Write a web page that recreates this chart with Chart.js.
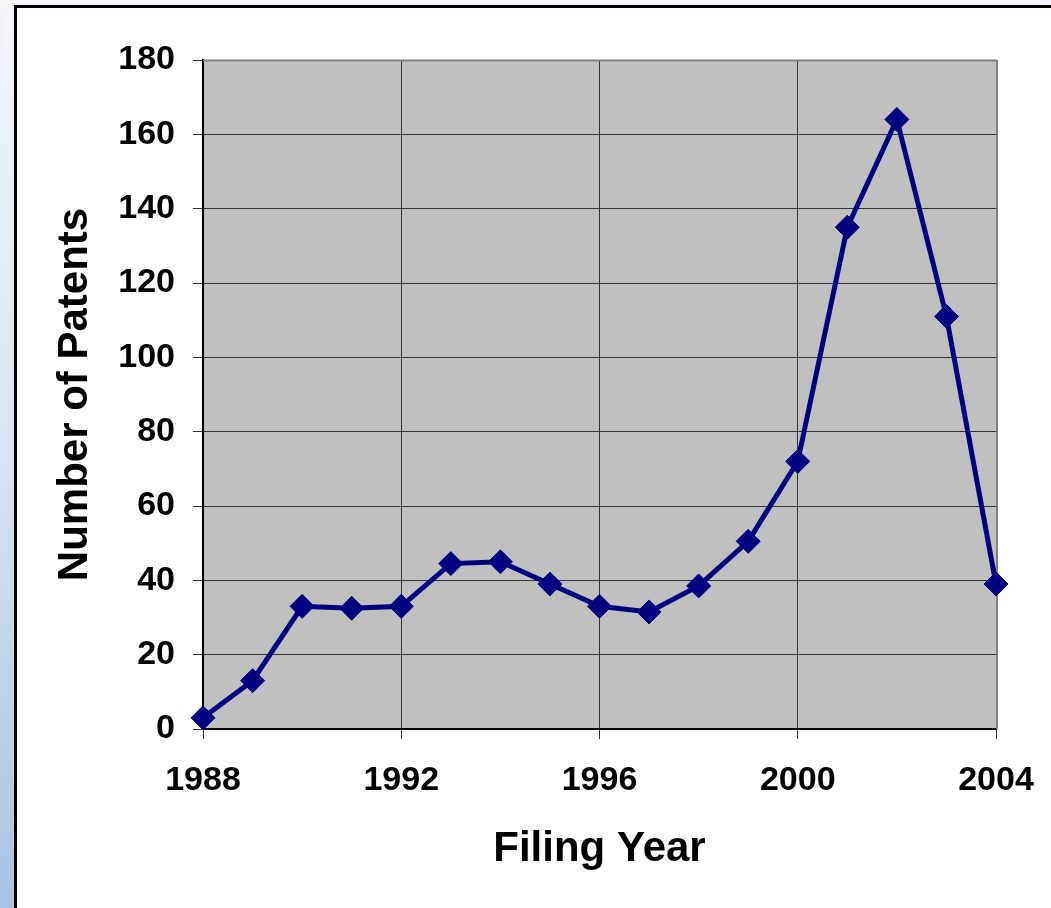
<!DOCTYPE html>
<html>
<head>
<meta charset="utf-8">
<script src="https://cdn.jsdelivr.net/npm/chart.js@4"></script>
<style>
    html, body { margin: 0; padding: 0; }
    body {
        width: 1051px; height: 908px; overflow: hidden; position: relative;
        background: linear-gradient(to bottom, #f3f6fb 0%, #d8e4f1 50%, #a7c4e1 100%);
    }
    .frame {
        position: absolute; left: 14px; top: 5px; width: 1100px; height: 1000px;
        border-left: 3px solid #000; border-top: 3px solid #000; background: #fff;
    }
    #patent-chart { position: absolute; left: 0; top: 0; }
</style>
</head>
<body>
<div class="frame"></div>
<canvas id="patent-chart" width="1051" height="908"></canvas>
<script>
/*** 資料 ***/
const years = [1988, 1989, 1990, 1991, 1992, 1993, 1994, 1995, 1996, 1997, 1998, 1999, 2000, 2001, 2002, 2003, 2004];
const patents = [3, 13, 33, 32.5, 33, 44.5, 45, 39, 33, 31.5, 38.5, 50.5, 72, 135, 164, 111, 39];
const xTicks = [1988, 1992, 1996, 2000, 2004];
const yTicks = [0, 20, 40, 60, 80, 100, 120, 140, 160, 180];

const navy = '#000080';
const tickFont = { family: 'Liberation Sans, Arial, sans-serif', size: 34, weight: 'bold' };
const titleFont = { family: 'Liberation Sans, Arial, sans-serif', size: 42, weight: 'bold' };

// 灰色繪圖區背景 + 上/右邊框
const plotArea = {
    id: 'plotArea',
    beforeDraw(chart) {
        const { ctx, chartArea: a } = chart;
        ctx.save();
        ctx.fillStyle = '#c0c0c0';
        ctx.fillRect(a.left, a.top, a.right - a.left, a.bottom - a.top);
        ctx.restore();
    },
    beforeDatasetsDraw(chart) {
        const { ctx, chartArea: a } = chart;
        ctx.save();
        ctx.strokeStyle = '#808080';
        ctx.lineWidth = 2;
        ctx.beginPath();
        ctx.moveTo(a.left, a.top + 0.5);
        ctx.lineTo(a.right + 1, a.top + 0.5);
        ctx.moveTo(a.right + 1, a.top);
        ctx.lineTo(a.right + 1, a.bottom);
        ctx.stroke();
        ctx.restore();
    }
};

const ctx = document.getElementById('patent-chart').getContext('2d');
new Chart(ctx, {
    type: 'line',
    data: {
        datasets: [{
            label: 'Patents',
            data: years.map((y, i) => ({ x: y, y: patents[i] })),
            borderColor: navy,
            backgroundColor: navy,
            borderWidth: 5,
            tension: 0,
            pointStyle: 'rectRot',
            pointRadius: 12,
            pointBorderWidth: 1,
            pointBorderColor: navy,
            pointBackgroundColor: navy,
            clip: false
        }]
    },
    options: {
        responsive: false,
        animation: false,
        devicePixelRatio: 1,
        layout: { padding: { top: 60, right: 55, left: 0, bottom: 0 } },
        plugins: {
            legend: { display: false },
            tooltip: { enabled: false }
        },
        scales: {
            x: {
                type: 'linear',
                min: years[0],
                max: years[years.length - 1],
                afterBuildTicks: s => { s.ticks = xTicks.map(v => ({ value: v })); },
                afterFit: s => { s.height = 179; s.paddingLeft = 0; s.paddingRight = 0; },
                ticks: {
                    font: tickFont, color: '#000', padding: 21, maxRotation: 0,
                    autoSkip: false, callback: v => String(v)
                },
                grid: { color: '#333', tickColor: '#333', tickLength: 10, lineWidth: 1 },
                border: { color: '#000', width: 2 },
                title: {
                    display: true, text: 'Filing Year', font: titleFont, color: '#000',
                    padding: { top: 0, bottom: 33 }
                }
            },
            y: {
                min: 0,
                max: 180,
                afterBuildTicks: s => { s.ticks = yTicks.map(v => ({ value: v })); },
                afterFit: s => { s.width = 203; },
                ticks: { font: tickFont, color: '#000', padding: 18 },
                grid: { color: '#333', tickColor: '#333', tickLength: 10, lineWidth: 1 },
                border: { color: '#000', width: 2 },
                title: {
                    display: true, text: 'Number of Patents', font: titleFont, color: '#000',
                    padding: { top: 50, bottom: 0 }
                }
            }
        }
    },
    plugins: [plotArea]
});
</script>
</body>
</html>
